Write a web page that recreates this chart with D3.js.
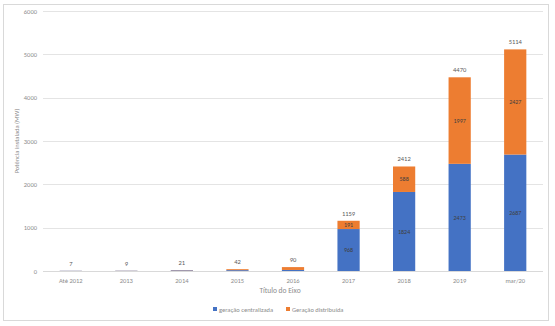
<!DOCTYPE html>
<html><head><meta charset="utf-8">
<script src="https://cdn.jsdelivr.net/npm/d3@7"></script>
<style>body{margin:0;background:#fff;font-family:Calibri,"Liberation Sans",Arial,sans-serif;}</style>
</head><body>
<svg id="c" width="555" height="326"></svg>
<script>
const categories = ["Até 2012","2013","2014","2015","2016","2017","2018","2019","mar/20"];
const centralizada = [5,6,15,20,24,968,1824,2473,2687];
const distribuida = [2,3,6,22,66,191,588,1997,2427];
const yTicks = [0,1000,2000,3000,4000,5000,6000];
const seriesNames = ["geração centralizada","Geração distribuída"];
const colors = ["#4472c4","#ed7d31"];

const svg = d3.select("#c");
svg.append("rect").attr("x",3.5).attr("y",4.5).attr("width",545).attr("height",316)
  .attr("fill","#fff").attr("stroke","#d9d9d9");

const x = d3.scaleBand().domain(categories).range([43,543]).paddingInner(0.6).paddingOuter(0.3);
const y = d3.scaleLinear().domain([0,6000]).range([271,11]);

const grid = svg.append("g");
grid.selectAll("line").data(yTicks.slice(1)).join("line")
  .attr("x1",43).attr("x2",543).attr("y1",d=>Math.round(y(d))+0.5).attr("y2",d=>Math.round(y(d))+0.5)
  .attr("stroke","#e4e4e4").attr("stroke-width",1);

const yAxis = svg.append("g").attr("transform","translate(43,0)")
  .call(d3.axisLeft(y).tickValues(yTicks).tickFormat(d3.format("d")).tickSize(0).tickPadding(6));
yAxis.select(".domain").remove();
yAxis.selectAll("text").attr("fill","#8c8c8c").style("font-size","6.5px").style("font-family","Calibri,'Liberation Sans',Arial,sans-serif");

const data = categories.map((c,i)=>({cat:c,c:centralizada[i],d:distribuida[i]}));
const stack = d3.stack().keys(["c","d"])(data);

stack.forEach((layer,li)=>{
  svg.append("g").selectAll("rect").data(layer).join("rect")
    .attr("x",d=>x(d.data.cat)).attr("width",x.bandwidth())
    .attr("y",d=>y(d[1])).attr("height",d=>Math.max(0,y(d[0])-y(d[1])))
    .attr("fill",colors[li]);
  svg.append("g").selectAll("text").data(layer.filter(d=>(d[1]-d[0])>=100)).join("text")
    .attr("x",d=>x(d.data.cat)+x.bandwidth()/2).attr("y",d=>(y(d[0])+y(d[1]))/2+2.2)
    .attr("text-anchor","middle").attr("fill","#404040").style("font-size","6px")
    .text(d=>d[1]-d[0]);
});

svg.append("line").attr("x1",43).attr("x2",543).attr("y1",271.5).attr("y2",271.5).attr("stroke","#d9d9d9");

svg.append("g").selectAll("text").data(data).join("text")
  .attr("x",d=>x(d.cat)+x.bandwidth()/2).attr("y",d=>y(d.c+d.d)-5)
  .attr("text-anchor","middle").attr("fill","#595959").style("font-size","6.5px")
  .text(d=>d.c+d.d);

const xAxis = svg.append("g").attr("transform","translate(0,271)")
  .call(d3.axisBottom(x).tickSize(0).tickPadding(7));
xAxis.select(".domain").remove();
xAxis.selectAll("text").attr("fill","#8c8c8c").style("font-size","6.5px").style("font-family","Calibri,'Liberation Sans',Arial,sans-serif");

svg.append("text").attr("x",280).attr("y",293).attr("text-anchor","middle")
  .attr("fill","#8c8c8c").style("font-size","7.5px").text("Título do Eixo");

svg.append("text").attr("transform","translate(19,141) rotate(-90)").attr("text-anchor","middle")
  .attr("fill","#8c8c8c").style("font-size","6.5px").text("Potência instalada (MW)");

const lg = svg.append("g");
const lx = [213,286];
seriesNames.forEach((n,i)=>{
  lg.append("rect").attr("x",lx[i]).attr("y",307).attr("width",4).attr("height",4).attr("fill",colors[i]);
  lg.append("text").attr("x",lx[i]+6).attr("y",311.5).attr("fill","#8c8c8c").style("font-size","6.5px").text(n);
});
</script>
</body></html>
